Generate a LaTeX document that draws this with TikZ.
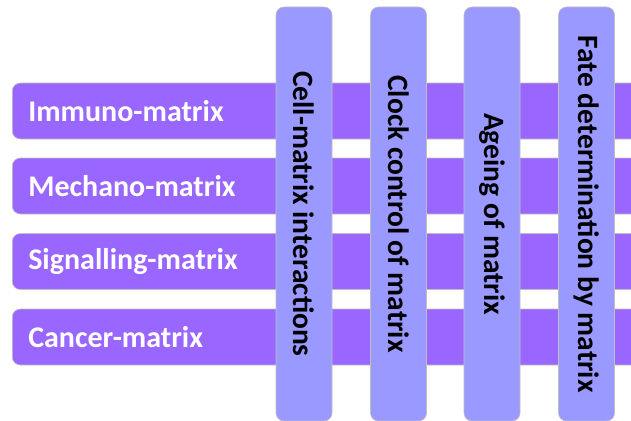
\documentclass[tikz,border=0pt]{standalone}
\usepackage{fontspec}
\setmainfont{Carlito}
\usepackage{tikz}
\usepackage{xcolor}
\usetikzlibrary{positioning,calc}

\definecolor{rowpurple}{HTML}{9966FF}
\definecolor{collavender}{HTML}{9999FF}

\begin{document}
\begin{tikzpicture}[x=1pt, y=-1pt,
    rowbar/.style={draw=black!25, line width=0.6pt, fill=rowpurple, rounded corners=8pt,
        minimum height=56pt, text width=618pt, inner xsep=16pt, align=left,
        anchor=west, text=white, font=\fontsize{30}{36}\selectfont\bfseries},
    colbar/.style={draw=black!25, line width=0.6pt, fill=collavender, rounded corners=8pt,
        minimum width=414pt, minimum height=56pt, rotate=-90, inner sep=0pt,
        font=\fontsize{29.5}{35}\selectfont\bfseries}]
    \useasboundingbox (0,0) rectangle (631,420);
    \clip (0,0) rectangle (631,420);

    % rows
    \node[rowbar] (immuno) at (12,111) {Immuno-matrix};
    \node[rowbar] (mechano) at (12,186) {Mechano-matrix};
    \node[rowbar] (signal) at (12,261.5) {Signalling-matrix};
    \node[rowbar] (cancer) at (12,337) {Cancer-matrix};

    % columns
    \node[colbar] (cellmat) at (304,214) {Cell-matrix interactions};
    \node[colbar] (clock) at (398.5,214) {Clock control of matrix};
    \node[colbar] (ageing) at (492,214) {Ageing of matrix};
    \node[colbar] (fate) at (586.5,214) {Fate determination by matrix};
\end{tikzpicture}
\end{document}
